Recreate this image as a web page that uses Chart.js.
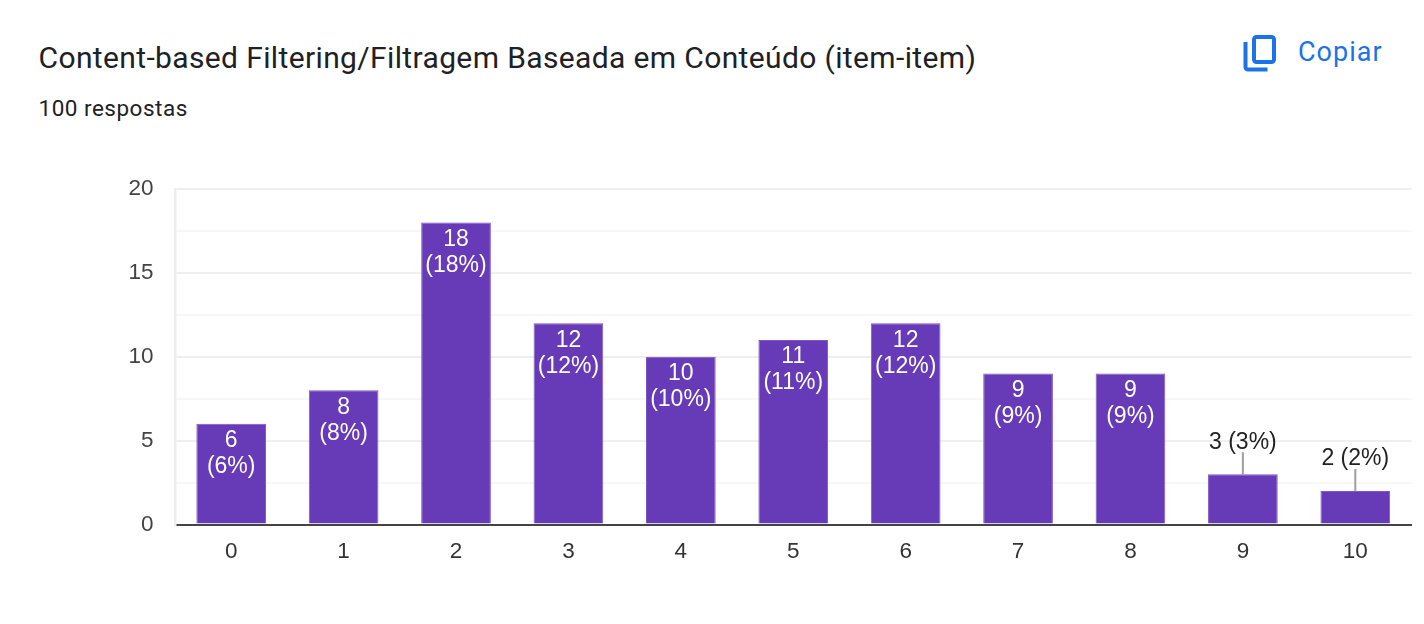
<!DOCTYPE html>
<html><head><meta charset="utf-8">
<style>
html,body{margin:0;padding:0;background:#fff;width:1424px;height:624px;overflow:hidden}
#w{position:absolute;left:0;top:0;width:1424px;height:624px}
.t{position:absolute;font-family:Roboto,sans-serif;white-space:nowrap}
</style>
<script src="https://cdn.jsdelivr.net/npm/chart.js@4"></script>
</head><body>
<div class="t" style="left:38.5px;top:39.5px;font-size:30px;color:#202124;line-height:36px;letter-spacing:.37px">Content-based Filtering/Filtragem Baseada em Conteúdo (item-item)</div>
<div class="t" style="left:38.5px;top:95px;font-size:22.5px;color:#202124;line-height:26px;letter-spacing:.5px">100 respostas</div>
<svg style="position:absolute;left:1238px;top:30px" width="44" height="46" viewBox="0 0 44 46"><path d="M7.5 12v25a2.5 2.5 0 0 0 2.5 2.5h19.5" fill="none" stroke="#1a73e8" stroke-width="4"/><rect x="16" y="7" width="20" height="25" rx="2.5" fill="none" stroke="#1a73e8" stroke-width="4"/></svg>
<div class="t" style="left:1298px;top:36px;font-size:27px;color:#1a73e8;line-height:32px;letter-spacing:1px">Copiar</div>
<div id="w"><canvas id="c" width="1424" height="624"></canvas></div>
<script>
const categories=["0","1","2","3","4","5","6","7","8","9","10"];
const values=[6,8,18,12,10,11,12,9,9,3,2];
const percents=[6,8,18,12,10,11,12,9,9,3,2];
const purple="#673ab7";
const labelPlugin={id:"lbl",afterDatasetsDraw(ch){
 const c=ch.ctx,m=ch.getDatasetMeta(0);
 c.save();c.font="23px Arial, 'Liberation Sans', sans-serif";c.textAlign="center";c.textBaseline="middle";
 m.data.forEach((b,i)=>{
  const v=values[i];
  if(v>=6){c.fillStyle="#fff";c.fillText(String(v),b.x,b.y+17);c.fillText("("+percents[i]+"%)",b.x,b.y+43);}
  else{c.strokeStyle="#9e9e9e";c.lineWidth=2;c.beginPath();c.moveTo(b.x,b.y);c.lineTo(b.x,b.y-22);c.stroke();
   c.fillStyle="#222";c.fillText(v+" ("+percents[i]+"%)",b.x,b.y-32);}
 });c.restore();}};
new Chart(document.getElementById("c"),{type:"bar",
 data:{labels:categories,datasets:[{data:values,backgroundColor:purple,borderColor:"#7e57c2",borderWidth:1,categoryPercentage:.62,barPercentage:1}]},
 plugins:[labelPlugin],
 options:{responsive:false,animation:false,
  layout:{padding:{left:128,top:189,right:12.5,bottom:44.5}},
  plugins:{legend:{display:false},tooltip:{enabled:false}},
  scales:{
   x:{grid:{display:false,drawTicks:false},border:{color:"#444",width:2},ticks:{color:"#333",padding:14,font:{family:"Arial, 'Liberation Sans', sans-serif",size:22.5},maxRotation:0}},
   y:{min:0,max:20,afterFit(a){a.width=47;},
    grid:{color:c=>c.tick.value===20?"#eeeeee":(c.tick.value%5===0?"#efefef":"#f7f7f7"),lineWidth:2,drawTicks:false},
    border:{display:true,color:"#eeeeee",width:2.5},
    ticks:{stepSize:2.5,autoSkip:false,color:"#444",padding:21.5,font:{family:"Arial, 'Liberation Sans', sans-serif",size:22.5},callback:v=>v%5===0?String(v):""}}
  }}});
</script>
</body></html>
